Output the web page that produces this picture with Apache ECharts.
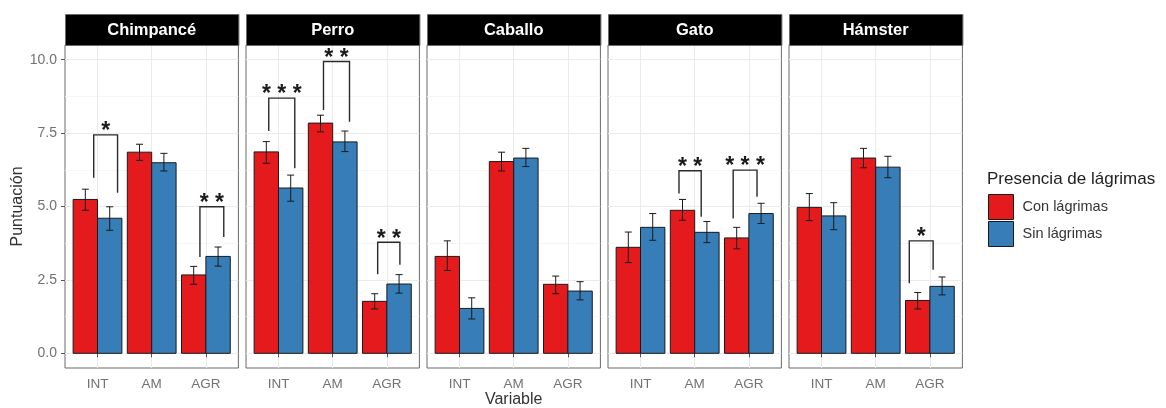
<!DOCTYPE html>
<html><head><meta charset="utf-8">
<script src="https://cdn.jsdelivr.net/npm/echarts@6/dist/echarts.min.js"></script>
<style>html,body{margin:0;padding:0;background:#fff}#c{width:1166px;height:408px}</style>
</head><body><div id="c"></div>
<script>
// ---- data ----
const panels = ['Chimpancé', 'Perro', 'Caballo', 'Gato', 'Hámster'];
const categories = ['INT', 'AM', 'AGR'];
const groups = ['Con lágrimas', 'Sin lágrimas'];
const yTicks = [0, 2.5, 5, 7.5, 10];

const conMean = [[5.24, 6.85, 2.67], [6.86, 7.84, 1.77], [3.30, 6.53, 2.35], [3.61, 4.87, 3.93], [4.97, 6.65, 1.80]];
const conLo   = [[4.87, 6.57, 2.35], [6.47, 7.54, 1.51], [2.82, 6.21, 2.03], [3.09, 4.53, 3.56], [4.52, 6.32, 1.51]];
const conHi   = [[5.59, 7.12, 2.96], [7.21, 8.11, 2.03], [3.83, 6.85, 2.63], [4.13, 5.24, 4.29], [5.44, 6.98, 2.07]];
const sinMean = [[4.60, 6.49, 3.30], [5.63, 7.20, 2.36], [1.53, 6.65, 2.12], [4.29, 4.12, 4.76], [4.68, 6.34, 2.28]];
const sinLo   = [[4.19, 6.21, 2.97], [5.18, 6.87, 2.05], [1.17, 6.36, 1.82], [3.85, 3.77, 4.42], [4.21, 5.98, 1.99]];
const sinHi   = [[4.99, 6.81, 3.62], [6.07, 7.57, 2.68], [1.89, 6.98, 2.44], [4.76, 4.49, 5.11], [5.13, 6.71, 2.60]];

// significance brackets
const sigPanel  = [0, 0, 1, 1, 1, 3, 3, 4];
const sigLabel  = ['*', '**', '***', '**', '**', '**', '***', '*'];
const sigXmin   = [0.93, 2.89, 0.82, 1.83, 2.83, 1.71, 2.71, 2.62];
const sigXmax   = [1.37, 3.33, 1.30, 2.31, 3.24, 2.12, 3.15, 3.06];
const sigYLeft  = [5.98, 3.28, 7.57, 8.29, 2.69, 5.44, 4.59, 2.39];
const sigYTop   = [7.44, 4.99, 8.69, 9.94, 3.78, 6.22, 6.24, 3.83];
const sigYRight = [5.47, 3.96, 6.30, 7.89, 3.02, 4.65, 5.33, 2.85];

// ---- layout / style ----
const FONT = '"Liberation Sans", Arial, sans-serif';
const colors = ['#E41A1C', '#377EB8'];
const PANEL_LEFT = 65, PANEL_STEP = 181, PANEL_W = 173.4, PANEL_TOP = 45, PANEL_H = 323;
const STRIP_TOP = 14;
const dodge = 0.225, barW = 0.45, capW = 0.13;

const chart = echarts.init(document.getElementById('c'), null, {renderer: 'canvas'});

const grids = [], xAxes = [], yAxes = [], series = [], graphics = [];

panels.forEach((name, p) => {
  const left = PANEL_LEFT + p * PANEL_STEP;
  grids.push({left: left, top: PANEL_TOP, width: PANEL_W, height: PANEL_H, outerBoundsMode: 'none',
    show: true, borderColor: '#6a6a6a', borderWidth: 1, backgroundColor: '#fff', containLabel: false});
  xAxes.push({type: 'value', gridIndex: p, min: 0.4, max: 3.6,
    axisLine: {show: false}, splitLine: {show: false},
    axisTick: {show: true, customValues: [1, 2, 3], length: 4, lineStyle: {color: '#555'}},
    axisLabel: {show: true, customValues: [1, 2, 3], margin: 9,
      formatter: v => categories[Math.round(v) - 1] || '',
      fontFamily: FONT, fontSize: 13.5, color: '#727272'}});
  yAxes.push({type: 'value', gridIndex: p, min: -0.5, max: 10.5,
    name: p === 0 ? 'Puntuación' : '', nameLocation: 'middle', nameGap: 39, nameRotate: 90,
    nameTextStyle: {fontFamily: FONT, fontSize: 16, color: '#333'},
    axisLine: {show: false}, splitLine: {show: false},
    axisTick: {show: p === 0, customValues: yTicks, length: 4, lineStyle: {color: '#555'}},
    axisLabel: {show: p === 0, customValues: yTicks, margin: 8,
      formatter: v => v.toFixed(1), fontFamily: FONT, fontSize: 14, color: '#727272'}});

  // gridlines
  const major = {color: '#ebebeb', width: 1, type: 'solid'};
  const minor = {color: '#f4f4f4', width: 0.8, type: 'solid'};
  const ml = [];
  yTicks.forEach(v => ml.push({yAxis: v, lineStyle: major}));
  for (let i = 0; i < yTicks.length - 1; i++) ml.push({yAxis: (yTicks[i] + yTicks[i + 1]) / 2, lineStyle: minor});
  categories.forEach((c, i) => ml.push({xAxis: i + 1, lineStyle: major}));
  series.push({type: 'line', xAxisIndex: p, yAxisIndex: p, data: [], z: 0, silent: true,
    markLine: {z: 0, silent: true, symbol: 'none', label: {show: false}, animation: false, data: ml}});

  // bars with error bars
  [[conMean, conLo, conHi], [sinMean, sinLo, sinHi]].forEach((arrs, g) => {
    const [m, lo, hi] = arrs;
    const data = categories.map((c, i) => [i + 1 + (g === 0 ? -dodge : dodge), m[p][i], lo[p][i], hi[p][i]]);
    series.push({
      type: 'custom', name: groups[g], xAxisIndex: p, yAxisIndex: p, z: 3,
      itemStyle: {color: colors[g], borderColor: '#1a1a1a', borderWidth: 1},
      encode: {x: 0, y: [1, 2, 3]},
      data: data,
      renderItem: (params, api) => {
        const x = api.value(0), y = api.value(1), l = api.value(2), h = api.value(3);
        const base = api.coord([x, 0]), top = api.coord([x, y]);
        const w = api.size([barW, 0])[0];
        const cw = api.size([capW, 0])[0] / 2;
        const pl = api.coord([x, l]), ph = api.coord([x, h]);
        const es = {stroke: '#1a1a1a', lineWidth: 1};
        return {type: 'group', children: [
          {type: 'rect', shape: {x: base[0] - w / 2, y: top[1], width: w, height: base[1] - top[1]},
            style: {fill: colors[g], stroke: '#1a1a1a', lineWidth: 1}},
          {type: 'line', shape: {x1: pl[0], y1: pl[1], x2: ph[0], y2: ph[1]}, style: es},
          {type: 'line', shape: {x1: ph[0] - cw, y1: ph[1], x2: ph[0] + cw, y2: ph[1]}, style: es},
          {type: 'line', shape: {x1: pl[0] - cw, y1: pl[1], x2: pl[0] + cw, y2: pl[1]}, style: es}
        ]};
      }
    });
  });

  // significance brackets
  const idx = sigPanel.map((pp, i) => pp === p ? i : -1).filter(i => i >= 0);
  if (idx.length) {
    series.push({
      type: 'custom', xAxisIndex: p, yAxisIndex: p, z: 4, silent: true,
      encode: {x: [0, 1], y: [2, 3, 4]},
      data: idx.map(i => [sigXmin[i], sigXmax[i], sigYLeft[i], sigYTop[i], sigYRight[i], i]),
      renderItem: (params, api) => {
        const i = api.value(5);
        const a = api.coord([api.value(0), api.value(2)]);
        const b = api.coord([api.value(0), api.value(3)]);
        const c = api.coord([api.value(1), api.value(3)]);
        const d = api.coord([api.value(1), api.value(4)]);
        return {type: 'group', children: [
          {type: 'polyline', shape: {points: [a, b, c, d]},
            style: {stroke: '#2a2a2a', lineWidth: 1.4, fill: null}},
          {type: 'text', x: (b[0] + c[0]) / 2, y: b[1] + 8.5,
            style: {text: sigLabel[i].split('').join(' '), fill: '#1a1a1a', fontFamily: FONT,
              fontSize: 23, fontWeight: 'bold', align: 'center', verticalAlign: 'bottom'}}
        ]};
      }
    });
  }

  // strip
  graphics.push({type: 'rect', left: left, top: STRIP_TOP, shape: {width: PANEL_W, height: PANEL_TOP - STRIP_TOP},
    style: {fill: '#000', stroke: '#6a6a6a', lineWidth: 1}, z: 10});
  graphics.push({type: 'text', x: left + PANEL_W / 2, y: STRIP_TOP + (PANEL_TOP - STRIP_TOP) / 2 + 1, z: 11,
    style: {text: name, fill: '#fff', fontFamily: FONT, fontSize: 16.5, fontWeight: 'bold',
      align: 'center', verticalAlign: 'middle'}});
});

// x axis title (centred under the facets)
graphics.push({type: 'text', x: PANEL_LEFT + 2 * PANEL_STEP + PANEL_W / 2, y: 400, z: 11,
  style: {text: 'Variable', fill: '#333', fontFamily: FONT, fontSize: 16, align: 'center', verticalAlign: 'middle'}});
// legend title
graphics.push({type: 'text', x: 987, y: 179, z: 11,
  style: {text: 'Presencia de lágrimas', fill: '#222', fontFamily: FONT, fontSize: 17,
    align: 'left', verticalAlign: 'middle'}});

chart.setOption({
  animation: false,
  backgroundColor: '#fff',
  grid: grids, xAxis: xAxes, yAxis: yAxes, series: series,
  graphic: graphics,
  legend: {
    data: groups, orient: 'vertical', left: 988, top: 194, padding: 0,
    itemWidth: 25, itemHeight: 25, itemGap: 1, icon: 'rect',
    itemStyle: {borderColor: '#1a1a1a', borderWidth: 1},
    textStyle: {fontFamily: FONT, fontSize: 14.5, color: '#333', padding: [0, 0, 0, 4]},
    selectedMode: false
  }
});
</script>
</body></html>
